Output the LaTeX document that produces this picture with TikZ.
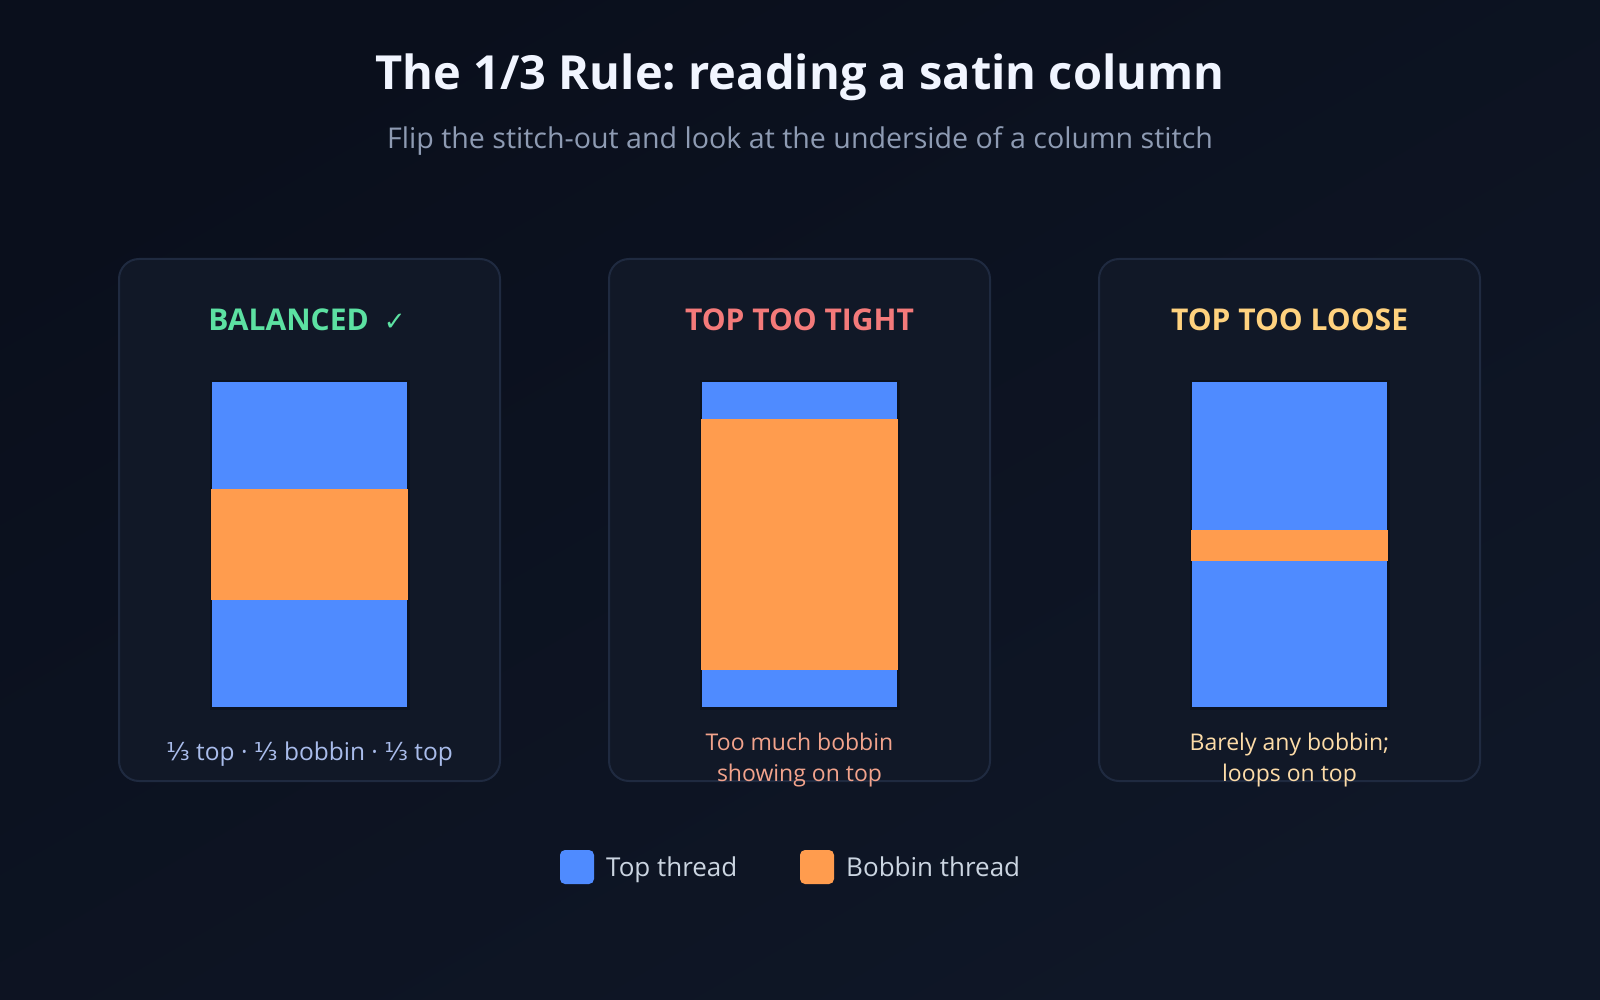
\documentclass[tikz,border=0pt]{standalone}
\usepackage{fontspec}
\setmainfont{Open Sans}
\newfontfamily\symfont{DejaVu Sans}
\newcommand{\onethird}{{\symfont ⅓}}
\frenchspacing
\definecolor{bgA}{HTML}{0A0F1C}
\definecolor{bgB}{HTML}{0F1727}
\definecolor{cardfill}{HTML}{111827}
\definecolor{cardline}{HTML}{1F2A40}
\definecolor{topblue}{HTML}{4F8BFF}
\definecolor{bobbin}{HTML}{FF9C4E}
\definecolor{colline}{HTML}{0B1220}
\definecolor{titlec}{HTML}{F1F5FF}
\definecolor{subc}{HTML}{8E9BB3}
\definecolor{okc}{HTML}{5CE1A2}
\definecolor{tightc}{HTML}{F47A7A}
\definecolor{loosec}{HTML}{FFD27F}
\definecolor{capA}{HTML}{A9BCEB}
\definecolor{capB}{HTML}{F2A38C}
\definecolor{capC}{HTML}{FDDCA8}
\definecolor{legc}{HTML}{CBD5E1}
\tikzset{
  card/.style={draw=cardline, line width=2pt, fill=cardfill, rounded corners=20pt,
    minimum width=381pt, minimum height=522pt, inner sep=0pt},
  column/.style={draw=colline, line width=1.5pt, minimum width=197pt, minimum height=327pt, inner sep=0pt},
  cardtitle/.style={font=\fontsize{30}{34}\selectfont\bfseries, inner sep=0pt, anchor=base},
  caption/.style={font=\fontsize{23}{31.5}\selectfont, align=center, inner sep=0pt},
  legbox/.style={rounded corners=5pt, minimum size=34pt, inner sep=0pt},
  legtext/.style={font=\fontsize{26}{32}\selectfont, text=legc, anchor=base west, inner sep=0pt}
}
\begin{document}
\begin{tikzpicture}[x=1pt,y=-1pt]
\useasboundingbox (0,0) rectangle (1600,1000);
\shade[shading=axis, top color=bgA, bottom color=bgB, shading angle=30] (0,0) rectangle (1600,1000);
% title
\node[font=\fontsize{47}{56}\selectfont\bfseries, text=titlec, inner sep=0pt, anchor=base] (title) at (800,90) {The 1/3 Rule: reading a satin column};
\node[font=\fontsize{28.6}{34}\selectfont, text=subc, inner sep=0pt, anchor=base] (sub) at (800,149) {Flip the stitch-out and look at the underside of a column stitch};
% cards
\foreach \i/\cx in {1/309.5, 2/799.5, 3/1289.5}{
  \node[card] (card\i) at (\cx,520) {};
  \node[column, fill=topblue] (col\i) at (\cx,544.5) {};
}
% bobbin bands
\fill[bobbin] (col1.north west) ++(0,109) rectangle ([yshift=109pt]col1.south east);
\fill[bobbin] (col2.north west) ++(0,38.5) rectangle ([yshift=39pt]col2.south east);
\fill[bobbin] (col3.north west) ++(0,149.5) rectangle ([yshift=147.5pt]col3.south east);
\foreach \i in {1,2,3}{ \draw[colline, line width=1.5pt] (col\i.north west) rectangle (col\i.south east); }
% card titles
\node[cardtitle, text=okc] (t1) at (307,330) {BALANCED\hspace{0.5em}{\symfont\mdseries\fontsize{26}{30}\selectfont ✓}};
\node[cardtitle, text=tightc] (t2) at (799.5,330) {TOP TOO TIGHT};
\node[cardtitle, text=loosec] (t3) at (1289.5,330) {TOP TOO LOOSE};
% captions
\node[caption, text=capA, font=\fontsize{24.5}{31.5}\selectfont] (cap1) at (309.5,754) {\onethird{} top · \onethird{} bobbin · \onethird{} top};
\node[caption, text=capB] (cap2) at (799.5,760) {Too much bobbin\\showing on top};
\node[caption, text=capC] (cap3) at (1289.5,760) {Barely any bobbin;\\loops on top};
% legend
\node[legbox, fill=topblue] (lb1) at (577,867) {};
\node[legtext] (lt1) at (606,876) {Top thread};
\node[legbox, fill=bobbin] (lb2) at (817,867) {};
\node[legtext] (lt2) at (846,876) {Bobbin thread};
\end{tikzpicture}
\end{document}
